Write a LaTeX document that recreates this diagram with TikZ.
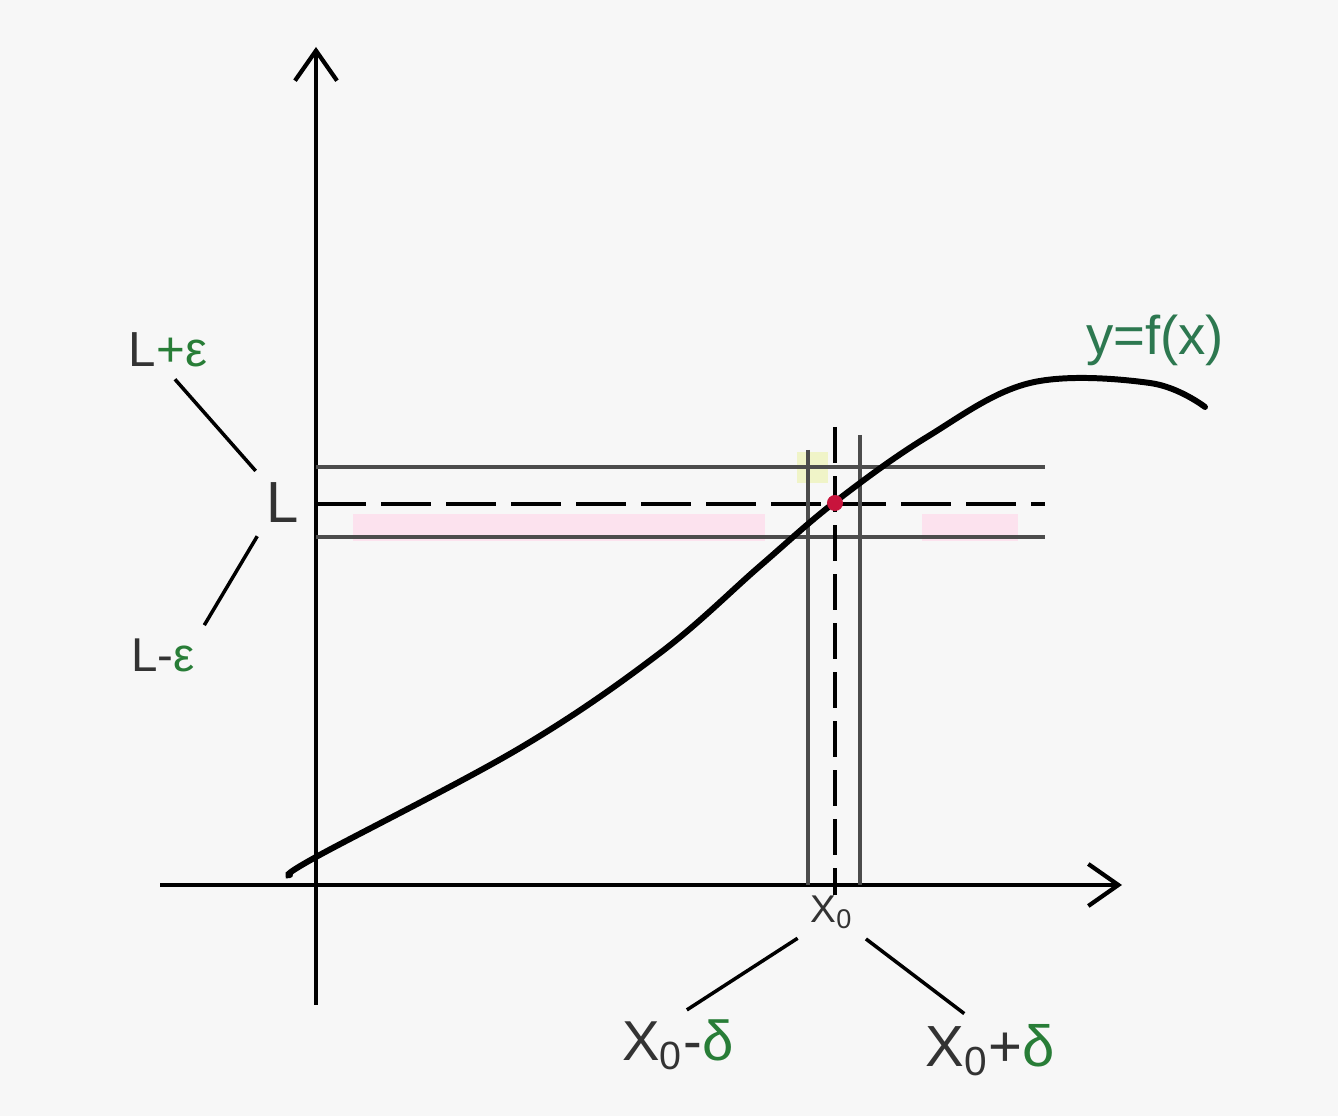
\documentclass[tikz,border=0pt]{standalone}
\usepackage{fontspec}
\setmainfont{Liberation Sans}
\usetikzlibrary{arrows.meta}

\definecolor{bgcol}{RGB}{247,247,247}
\definecolor{epsgreen}{RGB}{40,125,55}
\definecolor{fxgreen}{RGB}{45,120,80}
\definecolor{hlpink}{RGB}{252,226,238}
\definecolor{hlyellow}{RGB}{240,244,200}
\definecolor{dotred}{RGB}{200,20,60}

\begin{document}
\begin{tikzpicture}[x=0.01cm, y=-0.01cm,
    axis/.style={line width=1.1pt, -{Straight Barb[length=0.3cm,width=0.42cm,line width=1.2pt]}},
    guide/.style={line width=1pt, draw=black!70},
    leader/.style={line width=1pt, shorten <=3pt, shorten >=3pt},
    lbl/.style={inner sep=1pt, text=black!80}]

    % Background and fixed frame
    \fill[bgcol] (0,0) rectangle (1338,1116);
    \useasboundingbox (0,0) rectangle (1338,1116);

    % Highlighted bands
    \fill[hlpink] (353,514) rectangle (765,541);
    \fill[hlpink] (922,514) rectangle (1018,541);
    \fill[hlyellow] (797,452) rectangle (828,483);

    % Axes
    \coordinate (ybot) at (316,1005);
    \coordinate (ytop) at (316,47);
    \coordinate (xleft) at (160,885);
    \coordinate (xright) at (1122,885);
    \draw[axis] (ybot) -- (ytop);
    \draw[axis] (xleft) -- (xright);

    % Horizontal bounds L+eps and L-eps, and the dashed level L
    \foreach \yy in {467,537}{
        \draw[guide] (316,\yy) -- (1045,\yy);
    }
    \draw[line width=1.1pt, dash pattern=on 0.5cm off 0.15cm] (316,504) -- (1045,504);

    % Vertical bounds x0-delta and x0+delta, and the dashed level x0
    \foreach \xx/\yt in {808/450, 860/435}{
        \draw[guide] (\xx,\yt) -- (\xx,885);
    }
    \draw[line width=1.1pt, dash pattern=on 0.36cm off 0.13cm] (835,427) -- (835,895);

    % The graph y=f(x)
    \draw[line width=1.7pt, line cap=round] plot[smooth, tension=0.6] coordinates {
        (290,875) (316,857) (520,748) (660,653) (760,566) (835,502)
        (927,437) (1030,383) (1150,383) (1205,407)};

    % Limit point
    \fill[dotred] (835,503) circle (0.08cm);

    % Labels
    \node[lbl, font=\fontsize{14}{16}\selectfont] (Lpe) at (168,350) {L\textcolor{epsgreen}{+ε}};
    \node[lbl, font=\fontsize{16.5}{18}\selectfont] (Lval) at (283,503) {L};
    \node[lbl, font=\fontsize{13.5}{16}\selectfont] (Lme) at (163,655) {L-\textcolor{epsgreen}{ε}};
    \node[inner sep=1pt, text=fxgreen, font=\fontsize{15.5}{18}\selectfont] (fx) at (1155,340) {y=f(x)};
    \node[lbl, font=\fontsize{11}{13}\selectfont] (xzero) at (832,912) {X\textsubscript{0}};
    \node[lbl, font=\fontsize{16}{18}\selectfont] (Xm) at (678,1045) {X\textsubscript{0}-\textcolor{epsgreen}{δ}};
    \node[lbl, font=\fontsize{16.5}{18}\selectfont] (Xp) at (990,1050) {X\textsubscript{0}+\textcolor{epsgreen}{δ}};

    % Leader lines
    \draw[leader] (Lpe.south) -- (Lval.north west);
    \draw[leader] (Lval.south west) -- (Lme.north east);
    \draw[leader] (xzero.south west) -- (Xm.north);
    \draw[leader] (xzero.south east) -- (Xp.120);

\end{tikzpicture}
\end{document}
